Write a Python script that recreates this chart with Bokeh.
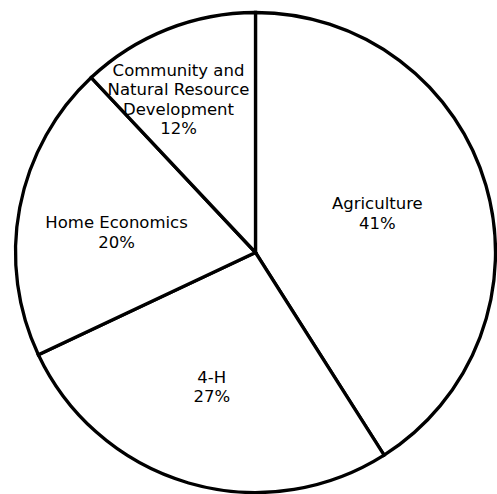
import math
from bokeh.plotting import figure
from bokeh.models import ColumnDataSource, Range1d
from bokeh.core.properties import value
from bokeh.embed import file_html
from bokeh.resources import INLINE

# Data
categories = ["Agriculture", "4-H", "Home Economics", "Community and\nNatural Resource\nDevelopment"]
shares = [41, 27, 20, 12]
pct_labels = ["41%", "27%", "20%", "12%"]

# Layout / style
W, H = 497, 494
CX, CY = 255, 242
R = 240
label_frac = [0.533, 0.59, 0.585, 0.714]
label_nudge_deg = [1.5, -1.8, 2.6, 5.1]
line_gap = 19.3

p = figure(width=W, height=H, output_backend="svg", toolbar_location=None,
           x_range=Range1d(0, W), y_range=Range1d(0, H), min_border=0,
           match_aspect=False)
p.axis.visible = False
p.grid.visible = False
p.outline_line_color = None
p.background_fill_color = "white"
p.border_fill_color = "white"

total = sum(shares)
starts, ends, mids = [], [], []
ang = 90.0
for s in shares:
    sweep = 360.0 * s / total
    starts.append(math.radians(ang - sweep))
    ends.append(math.radians(ang))
    mids.append(ang - sweep / 2)
    ang -= sweep

src = ColumnDataSource(dict(x=[CX] * len(shares), y=[CY] * len(shares),
                            start=starts, end=ends))
p.wedge(x="x", y="y", radius=R, start_angle="start", end_angle="end",
        source=src, fill_color="white", line_color="black", line_width=3.3,
        line_join="miter")

tx, ty, tt = [], [], []
for i, (cat, pct) in enumerate(zip(categories, pct_labels)):
    a = math.radians(mids[i] + label_nudge_deg[i])
    lx = CX + R * label_frac[i] * math.cos(a)
    ly = CY + R * label_frac[i] * math.sin(a)
    lines = cat.split("\n") + [pct]
    n = len(lines)
    for j, ln in enumerate(lines):
        tx.append(lx)
        ty.append(ly + (n - 1) / 2 * line_gap - j * line_gap)
        tt.append(ln)

p.text(x=tx, y=ty, text=tt, text_align="center", text_baseline="middle",
       text_font=value("DejaVu Sans"), text_font_size="16.5px", text_color="black")

open("out.html", "w").write(file_html(p, INLINE))
